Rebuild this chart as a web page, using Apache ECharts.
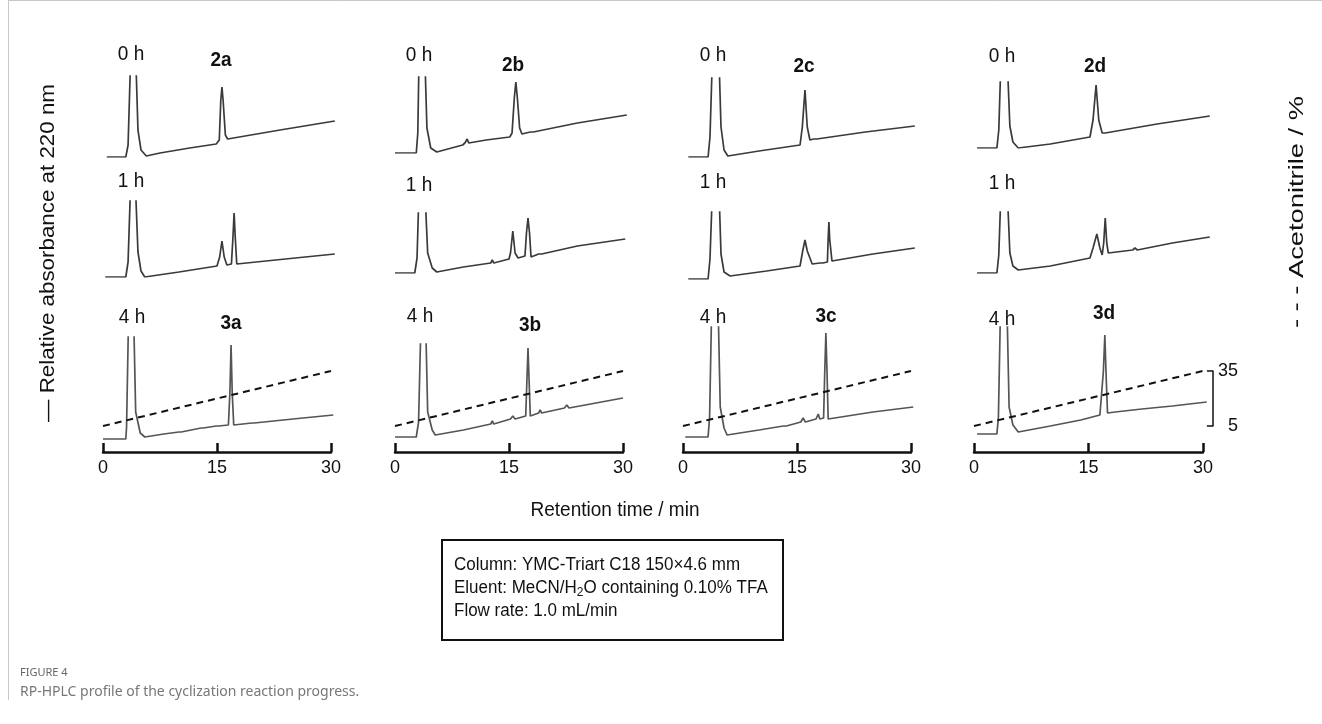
<!DOCTYPE html>
<html>
<head>
<meta charset="utf-8">
<script src="https://cdn.jsdelivr.net/npm/echarts@6/dist/echarts.min.js"></script>
<style>
html,body{margin:0;padding:0;background:#fff;}
#c{width:1322px;height:724px;}
</style>
</head>
<body>
<div id="c"></div>
<script>
// ---------------- DATA ----------------
const xTicks = [0, 15, 30];
const timeLabels = ['0 h', '1 h', '4 h'];
const startLabels = ['2a', '2b', '2c', '2d'];
const productLabels = ['3a', '3b', '3c', '3d'];
const acnTicks = [5, 35];
// acetonitrile gradient (min, %)
const acnGradient = [[0, 5], [30, 35]];

// chromatograms: [retention time (min), relative absorbance (a.u.)]
const trace_a_0h = [[0.5,0],[3.0,0],[3.3,12],[3.6,90],[3.9,300],[4.35,90],[4.6,27],[5.0,7],[5.7,1],[7.5,4],[11.4,9],[14.9,13],[15.3,17],[15.5,57],[15.65,70],[15.8,57],[16.1,22],[16.4,18],[23.3,27],[30.5,36]];
const trace_a_1h = [[0.3,0],[3.0,0],[3.3,15],[3.6,85],[3.9,300],[4.3,85],[4.6,25],[5.0,6],[5.5,0],[10,5],[15.0,11],[15.35,20],[15.65,36],[15.95,20],[16.3,12],[16.9,13],[17.1,40],[17.25,64],[17.4,40],[17.6,13],[24,18],[30.5,23]];
const trace_a_4h = [[0,13],[3.0,13],[3.1,25],[3.35,130],[3.7,400],[4.05,130],[4.3,40],[4.9,19],[5.5,15],[8,18],[10.0,20],[10.1,22],[10.3,20],[12.9,24],[13.0,26],[13.2,24],[14.9,26],[15.0,28],[15.2,26],[16.5,27],[16.7,60],[16.85,107],[17.0,60],[17.2,27],[19.6,29],[19.7,31],[19.9,29],[25,33],[30.3,37]];

const trace_b_0h = [[0,0],[2.8,0],[3.0,20],[3.15,90],[3.55,300],[3.95,90],[4.2,25],[4.7,5],[5.5,1],[8.9,8],[9.2,10],[9.5,14],[9.7,10],[12,13],[15.1,16],[15.4,20],[15.7,55],[15.9,71],[16.1,55],[16.4,25],[16.7,19],[17.8,21],[18.0,23],[18.2,21],[24,30],[30.5,38]];
const trace_b_1h = [[0,0],[2.6,0],[2.9,15],[3.15,80],[3.55,250],[3.95,80],[4.3,20],[4.9,5],[5.5,1],[9,6],[12.6,10],[12.8,13],[13.0,10],[15.0,14],[15.2,20],[15.5,42],[15.8,20],[16.2,15],[17.1,17],[17.3,40],[17.5,55],[17.7,40],[17.9,16],[18.9,19],[19.1,21],[19.3,19],[24,27],[30.3,34]];
const trace_b_4h = [[0,15],[2.8,15],[3.1,30],[3.4,125],[3.7,350],[4.05,125],[4.3,40],[4.9,22],[5.3,17],[9,22],[12.6,28],[12.8,31],[13.0,28],[15.2,33],[15.5,36],[15.8,33],[17.2,36],[17.35,70],[17.5,104],[17.65,70],[17.8,36],[18.9,39],[19.1,42],[19.3,39],[22.3,44],[22.6,47],[22.9,44],[30,54]];

const trace_c_0h = [[0.7,0],[3.3,0],[3.55,20],[3.85,95],[4.3,300],[4.75,95],[5.0,30],[5.4,7],[5.9,1],[10,6],[15.4,12],[15.7,30],[16.05,67],[16.35,30],[16.7,17],[17.2,18],[17.4,20],[17.6,18],[24,25],[30.5,31]];
const trace_c_1h = [[0.7,0],[3.3,0],[3.55,20],[3.85,85],[4.3,300],[4.75,85],[5.0,25],[5.4,7],[6.2,3],[11,8],[15.4,13],[15.75,28],[16.05,39],[16.35,28],[17.0,15],[18.0,16],[18.2,18],[18.4,16],[19.0,17],[19.1,40],[19.2,57],[19.3,40],[19.6,18],[25,25],[30.5,31]];
const trace_c_4h = [[0.3,15],[3.3,15],[3.5,35],[3.75,135],[4.2,400],[4.65,135],[4.9,45],[5.4,24],[5.8,17],[10,22],[13.2,26],[13.4,28],[13.6,26],[15.5,30],[15.8,34],[16.1,30],[17.5,33],[17.8,38],[18.0,33],[18.5,34],[18.65,80],[18.8,119],[18.95,80],[19.1,33],[25,40],[30.3,45]];

const trace_d_0h = [[0.4,0],[3.0,0],[3.25,18],[3.5,80],[3.95,250],[4.4,80],[4.7,22],[5.1,6],[5.8,0],[10,4],[15.2,11],[15.6,28],[16.0,63],[16.35,28],[16.8,15],[17.0,17],[17.2,15],[24,24],[30.9,32]];
const trace_d_1h = [[0.4,0],[3.0,0],[3.25,18],[3.5,75],[3.95,250],[4.4,75],[4.7,20],[5.1,7],[5.8,3],[10,7],[15.2,15],[15.6,25],[16.1,39],[16.5,25],[16.8,18],[17.0,30],[17.2,55],[17.4,30],[17.6,20],[20.8,23],[21.1,25],[21.4,23],[26,30],[30.9,36]];
const trace_d_4h = [[0.4,18],[3.0,18],[3.2,35],[3.45,135],[3.9,400],[4.35,135],[4.6,45],[5.1,27],[5.8,20],[10,26],[14,32],[16.5,37],[16.7,36],[16.95,80],[17.15,117],[17.3,80],[17.5,39],[18.5,40],[22,43],[26,46],[30.5,50]];

const traces = [
  [trace_a_0h, trace_a_1h, trace_a_4h],
  [trace_b_0h, trace_b_1h, trace_b_4h],
  [trace_c_0h, trace_c_1h, trace_c_4h],
  [trace_d_0h, trace_d_1h, trace_d_4h]
];

// ---------------- LAYOUT ----------------
const FONT = '"Liberation Sans", Arial, Helvetica, sans-serif';
const colLeft = [103, 395, 683, 974];
const pxPerMin = [7.6, 7.6, 7.6, 7.63];
// [top, bottom] of each panel, per column, per row
const panelBox = [
  [[76,157],[201,277],[337,452]],
  [[77,153],[213,273],[344,452]],
  [[78,157],[212,279],[327,452]],
  [[82,148],[212,273],[327,452]]
];
const rowColor = ['#3a3a3a', '#3a3a3a', '#555'];
const acnTop = 371, acnBottom = 426, axisY = 452;
const timeLabelPos = [
  [[131,55],[131,182],[132,318]],
  [[419,56],[419,186],[420,317]],
  [[713,56],[713,183],[713,318]],
  [[1002,57],[1002,184],[1002,320]]
];
const startLabelPos = [[221,61],[513,66],[804,67],[1095,67]];
const productLabelPos = [[231,324],[530,326],[826,317],[1104,314]];

const grid = [], xAxis = [], yAxis = [], series = [];
for (let c = 0; c < 4; c++) {
  for (let r = 0; r < 3; r++) {
    const [top, bottom] = panelBox[c][r];
    const idx = grid.length;
    grid.push({left: colLeft[c], top: top, width: 31 * pxPerMin[c], height: bottom - top});
    xAxis.push({gridIndex: idx, type: 'value', min: 0, max: 31, show: false});
    yAxis.push({gridIndex: idx, type: 'value', min: 0, max: bottom - top, show: false});
    series.push({
      type: 'line', xAxisIndex: idx, yAxisIndex: idx, data: traces[c][r],
      symbol: 'none', clip: true, silent: true, animation: false,
      lineStyle: {color: rowColor[r], width: 1.7}
    });
  }
}
// axis + acetonitrile grids on 4 h panels
for (let c = 0; c < 4; c++) {
  const idx = grid.length;
  grid.push({left: colLeft[c], top: acnTop, width: 30 * pxPerMin[c], height: acnBottom - acnTop});
  xAxis.push({
    gridIndex: idx, type: 'value', min: 0, max: 30, interval: 15,
    offset: axisY - acnBottom,
    axisLine: {show: true, onZero: false, lineStyle: {color: '#111', width: 2.5}},
    axisTick: {show: true, inside: true, length: 9, lineStyle: {color: '#111', width: 2.5}},
    axisLabel: {show: true, fontSize: 18, color: '#111', fontFamily: FONT, margin: 7},
    splitLine: {show: false}
  });
  const showBracket = (c === 3);
  yAxis.push({
    gridIndex: idx, type: 'value', min: acnTicks[0], max: acnTicks[1], position: 'right', offset: 10,
    show: showBracket,
    axisLine: {show: true, onZero: false, lineStyle: {color: '#111', width: 1.5}},
    axisTick: {show: true, inside: true, length: 6, customValues: acnTicks, lineStyle: {color: '#111', width: 1.5}},
    axisLabel: {show: true, fontSize: 18, color: '#111', fontFamily: FONT, margin: 25, align: 'right', customValues: acnTicks},
    splitLine: {show: false}
  });
  series.push({
    type: 'line', xAxisIndex: idx, yAxisIndex: idx, data: acnGradient,
    symbol: 'none', silent: true, animation: false,
    lineStyle: {color: '#111', width: 2, type: [7, 5]}
  });
}

const graphic = [];
// frame lines
graphic.push({type: 'line', shape: {x1: 8.5, y1: 0, x2: 8.5, y2: 700}, style: {stroke: '#c8c8c8', lineWidth: 1}});
graphic.push({type: 'line', shape: {x1: 8, y1: 0.5, x2: 1322, y2: 0.5}, style: {stroke: '#c8c8c8', lineWidth: 1}});
for (let c = 0; c < 4; c++) {
  for (let r = 0; r < 3; r++) {
    graphic.push({type: 'text', x: timeLabelPos[c][r][0], y: timeLabelPos[c][r][1], scaleY: 1.05,
      style: {text: timeLabels[r], font: '19px ' + FONT, fill: '#111', align: 'center', verticalAlign: 'middle'}});
  }
  graphic.push({type: 'text', x: startLabelPos[c][0], y: startLabelPos[c][1], scaleY: 1.05,
    style: {text: startLabels[c], font: 'bold 19px ' + FONT, fill: '#111', align: 'center', verticalAlign: 'middle'}});
  graphic.push({type: 'text', x: productLabelPos[c][0], y: productLabelPos[c][1], scaleY: 1.05,
    style: {text: productLabels[c], font: 'bold 19px ' + FONT, fill: '#111', align: 'center', verticalAlign: 'middle'}});
}
graphic.push({type: 'text', x: 48, y: 253, rotation: Math.PI / 2, scaleX: 1.09,
  style: {text: '— Relative absorbance at 220 nm', font: '20.5px ' + FONT, fill: '#111', align: 'center', verticalAlign: 'middle'}});
graphic.push({type: 'text', x: 1297, y: 212, rotation: Math.PI / 2, scaleX: 1.3,
  style: {text: '- - - Acetonitrile / %', font: '21px ' + FONT, fill: '#111', align: 'center', verticalAlign: 'middle'}});
graphic.push({type: 'text', x: 615, y: 510, scaleY: 1.1,
  style: {text: 'Retention time / min', font: '19px ' + FONT, fill: '#111', align: 'center', verticalAlign: 'middle'}});
// conditions box
graphic.push({type: 'rect', shape: {x: 442, y: 540, width: 341, height: 100}, style: {fill: 'none', stroke: '#111', lineWidth: 2}});
graphic.push({type: 'text', x: 454, y: 565, scaleY: 1.1,
  style: {text: 'Column: YMC-Triart C18 150×4.6 mm', font: '17px ' + FONT, fill: '#111', align: 'left', verticalAlign: 'middle'}});
graphic.push({type: 'text', x: 454, y: 588, scaleY: 1.1,
  style: {text: '{m|Eluent: MeCN/H}{s|2}{m|O containing 0.10% TFA}', align: 'left', verticalAlign: 'middle',
    rich: {m: {fontSize: 17, fontFamily: FONT, fill: '#111', lineHeight: 20, verticalAlign: 'middle'},
           s: {fontSize: 12, fontFamily: FONT, fill: '#111', lineHeight: 12, verticalAlign: 'bottom'}}}});
graphic.push({type: 'text', x: 454, y: 611, scaleY: 1.1,
  style: {text: 'Flow rate: 1.0 mL/min', font: '17px ' + FONT, fill: '#111', align: 'left', verticalAlign: 'middle'}});
// caption
graphic.push({type: 'text', x: 20, y: 673,
  style: {text: 'FIGURE 4', font: '11px "Noto Sans", "Open Sans", sans-serif', fill: '#666', align: 'left', verticalAlign: 'middle'}});
graphic.push({type: 'text', x: 20, y: 692,
  style: {text: 'RP-HPLC profile of the cyclization reaction progress.', font: '14px "Noto Sans", "Open Sans", sans-serif', fill: '#777', align: 'left', verticalAlign: 'middle'}});

const chart = echarts.init(document.getElementById('c'), null, {renderer: 'canvas'});
chart.setOption({
  backgroundColor: '#fff',
  animation: false,
  grid: grid, xAxis: xAxis, yAxis: yAxis, series: series, graphic: graphic
});
</script>
</body>
</html>
